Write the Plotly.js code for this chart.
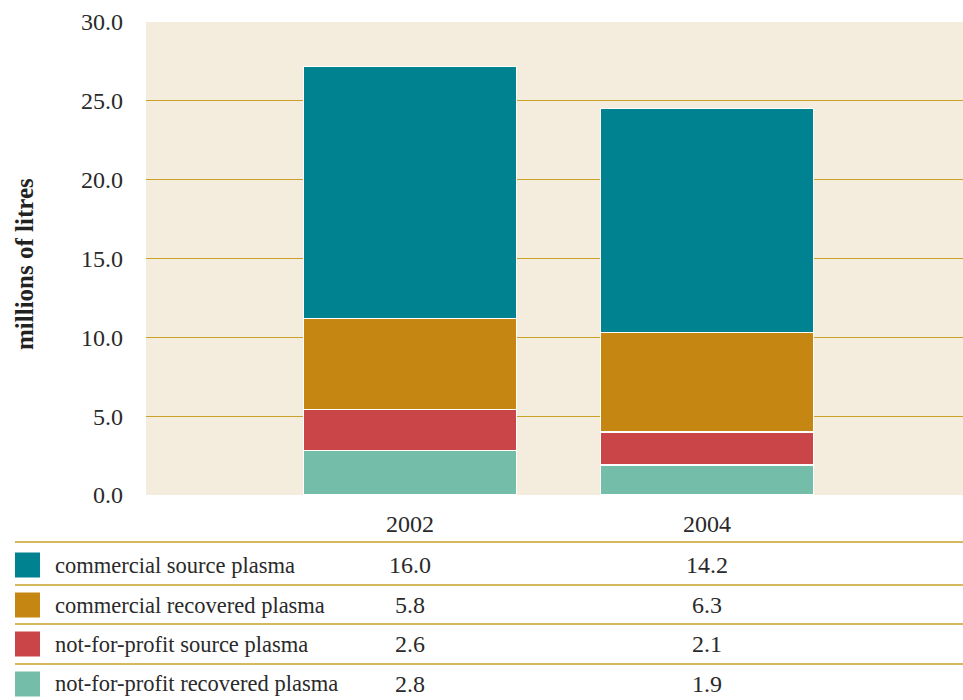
<!DOCTYPE html>
<html>
<head>
<meta charset="utf-8">
<script src="https://cdn.plot.ly/plotly-3.0.1.min.js"></script>
<style>html,body{margin:0;padding:0;background:#fff;}#chart{width:963px;height:700px;}</style>
</head>
<body>
<div id="chart"></div>
<script>
const years = ['2002', '2004'];
const seriesNames = ['commercial source plasma', 'commercial recovered plasma', 'not-for-profit source plasma', 'not-for-profit recovered plasma'];
const commercialSource = [16.0, 14.2];
const commercialRecovered = [5.8, 6.3];
const nfpSource = [2.6, 2.1];
const nfpRecovered = [2.8, 1.9];
const yTicks = [0, 5, 10, 15, 20, 25, 30];

const colors = ['#008291', '#c58711', '#c94548', '#74bea9'];
const seriesValues = [commercialSource, commercialRecovered, nfpSource, nfpRecovered];

const W = 963, H = 700, L = 146, T = 22, B = 205, R = 0;
const PW = W - L - R, PH = H - T - B;
const px = p => (p - L) / PW;
const py = p => (H - B - p) / PH;

const FONT = 'Liberation Serif, Times New Roman, serif';
const grid = '#c9a227';
const XR = [-0.889, 1.862];
const catPaper = j => (j - XR[0]) / (XR[1] - XR[0]);

// stacking: bottom first
const order = [3, 2, 1, 0];
const traces = order.map(i => ({
  type: 'bar',
  x: years,
  y: seriesValues[i],
  name: seriesNames[i],
  width: 0.717,
  marker: {color: colors[i], line: {color: '#ffffff', width: 1.2}},
  hoverinfo: 'x+y+name',
  showlegend: false
}));

const shapes = [];
const annotations = [];
const rowLines = [542, 585, 624, 664];
rowLines.forEach(yy => shapes.push({type: 'line', xref: 'paper', yref: 'paper', x0: px(15), x1: px(963), y0: py(yy), y1: py(yy), line: {color: grid, width: 1.3}}));

const rowCenters = [565, 605, 644, 684];
seriesNames.forEach((n, i) => {
  const c = rowCenters[i];
  shapes.push({type: 'rect', xref: 'paper', yref: 'paper', x0: px(15), x1: px(40), y0: py(c - 12.5), y1: py(c + 12.5), fillcolor: colors[i], line: {width: 0}});
  annotations.push({xref: 'paper', yref: 'paper', x: px(53), y: py(c), xanchor: 'left', yanchor: 'middle', text: n, showarrow: false, font: {family: FONT, size: 22.5, color: '#2a2a2a'}});
  years.forEach((yr, j) => {
    annotations.push({xref: 'paper', yref: 'paper', x: catPaper(j), y: py(c), xanchor: 'center', yanchor: 'middle', text: seriesValues[i][j].toFixed(1), showarrow: false, font: {family: FONT, size: 24, color: '#2a2a2a'}});
  });
});

annotations.push({xref: 'paper', yref: 'paper', x: px(24), y: py(264), xanchor: 'center', yanchor: 'middle', textangle: -90, text: '<b>millions of litres</b>', showarrow: false, font: {family: FONT, size: 25, color: '#222'}});

const layout = {
  width: W, height: H,
  margin: {l: L, r: R, t: T, b: B, pad: 0},
  paper_bgcolor: '#ffffff',
  plot_bgcolor: '#f4ecdc',
  barmode: 'stack',
  showlegend: false,
  xaxis: {type: 'category', range: XR, showgrid: false, zeroline: false, showline: false, ticks: '', ticklabelstandoff: 12, tickfont: {family: FONT, size: 24, color: '#2a2a2a'}, fixedrange: true},
  yaxis: {range: [0, 30], tickvals: yTicks, ticktext: yTicks.map(v => v.toFixed(1)), showgrid: true, gridcolor: grid, gridwidth: 1.2, zeroline: false, showline: false, ticks: '', ticklabelstandoff: 22, tickfont: {family: FONT, size: 24, color: '#2a2a2a'}, fixedrange: true},
  shapes: shapes,
  annotations: annotations
};

Plotly.newPlot('chart', traces, layout, {displayModeBar: false, staticPlot: true});
</script>
</body>
</html>
